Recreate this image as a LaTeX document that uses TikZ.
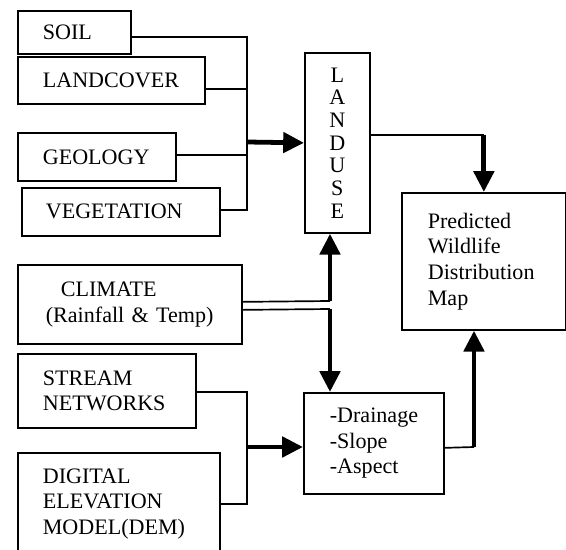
\documentclass[tikz,border=0pt]{standalone}
\usepackage{fontspec}
\setmainfont{Liberation Serif}
\usetikzlibrary{arrows.meta}

\begin{document}
\begin{tikzpicture}[x=0.025cm, y=-0.025cm,
  box/.style={draw, line width=1.2pt, anchor=north west, align=left,
    inner ysep=0pt, inner xsep=0.625cm, font=\fontsize{15.7}{18.2}\selectfont},
  link/.style={line width=1.2pt},
  flow/.style={line width=3.4pt, -{Triangle[width=0.5cm,length=0.52cm]}}]
  \useasboundingbox (0,0) rectangle (566,550);

  % Input layers (top group)
  \node[box, text width=1.575cm, minimum height=1.075cm] (soil) at (17,10) {SOIL};
  \node[box, text width=3.425cm, minimum height=1.175cm] (landcover) at (17,56) {LANDCOVER};
  \node[box, text width=2.7cm, minimum height=1.2cm] (geology) at (17,132) {GEOLOGY};
  \node[box, text width=3.75cm, inner xsep=0.6cm, minimum height=1.2cm] (vegetation) at (21,187) {VEGETATION};

  % Landuse column
  \node[box, align=center, text width=1.625cm, inner xsep=0pt, minimum height=4.5cm,
    font=\fontsize{15.7}{16.1}\selectfont] (landuse) at (304,52) {L\\A\\N\\D\\U\\S\\E};

  % Climate and terrain inputs
  \node[box, text width=4.2cm, inner xsep=0.7cm, minimum height=1.975cm] (climate) at (17,264)
    {\hspace*{0.375cm}CLIMATE\\(Rainfall~\&~Temp)};
  \node[box, text width=3.2cm, minimum height=1.85cm] (stream) at (17,353) {STREAM\\NETWORKS};
  \node[box, text width=3.8cm, minimum height=2.55cm] (dem) at (17,452) {DIGITAL\\ELEVATION\\MODEL(DEM)};

  % Derived terrain and output
  \node[box, text width=2.2cm, inner xsep=0.65cm, minimum height=2.525cm] (drainage) at (303,392)
    {\mbox{-Drainage}\\\mbox{-Slope}\\\mbox{-Aspect}};
  \node[box, text width=2.8cm, inner xsep=0.65cm, minimum height=3.425cm] (predicted) at (401,192)
    {Predicted\\Wildlife\\Distribution\\Map};

  % Top group into LANDUSE
  \coordinate (hubA) at (247,142);
  \draw[link] ([yshift=-0.1125cm]soil.east) -| (hubA);
  \draw[link] ([yshift=-0.2125cm]landcover.east) -| (hubA);
  \draw[link] ([yshift=0.05cm]geology.east) -| (hubA);
  \draw[link] ([yshift=0.05cm]vegetation.east) -| (hubA);
  \draw[flow] (hubA) -- (landuse.west);

  % LANDUSE into map
  \draw[link] ([yshift=0.2cm]landuse.east) coordinate (outA) -- (outA -| predicted.north) coordinate (cornerA);
  \draw[flow] (cornerA) -- (predicted.north);

  % Climate up and down
  \coordinate (cornerB) at (330,301);
  \coordinate (cornerC) at (330,309);
  \draw[link] ([yshift=0.0625cm]climate.east) -- (cornerB);
  \draw[flow] (cornerB) -- (cornerB |- landuse.south);
  \draw[link] ([yshift=-0.1375cm]climate.east) -- (cornerC);
  \draw[flow] (cornerC) -- (cornerC |- drainage.north);

  % Bottom group into terrain box
  \coordinate (hubB) at (247,447);
  \draw[link] ([yshift=-0.025cm]stream.east) -| (hubB);
  \draw[link] (dem.east) -| (hubB);
  \draw[flow] (hubB) -- (hubB -| drainage.west);

  % Terrain box into map
  \coordinate (cornerD) at (474,447);
  \draw[link] ([yshift=-0.1125cm]drainage.east) -- (cornerD);
  \draw[flow] (cornerD) -- (cornerD |- predicted.south);
\end{tikzpicture}
\end{document}
